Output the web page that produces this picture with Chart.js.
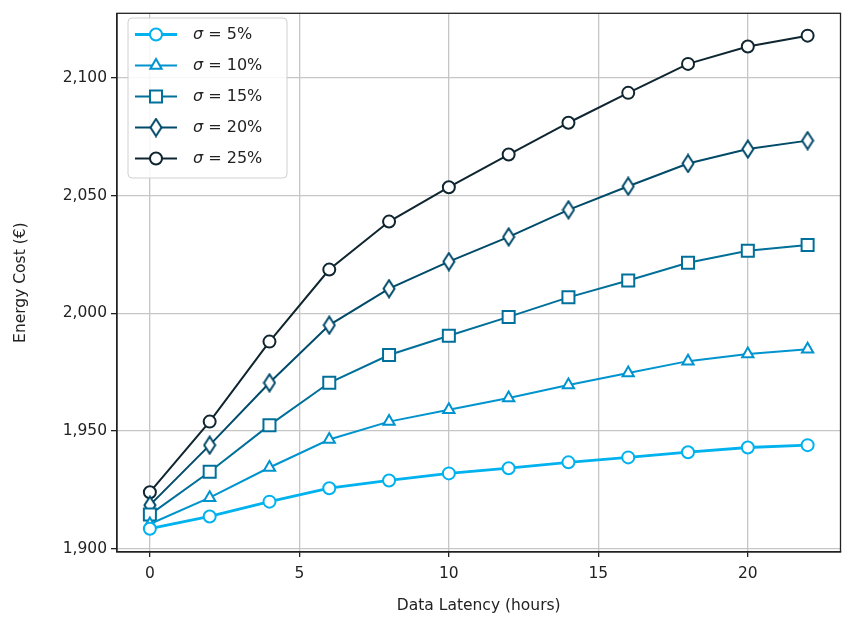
<!DOCTYPE html>
<html>
<head>
<meta charset="utf-8">
<script src="https://cdn.jsdelivr.net/npm/chart.js@4/dist/chart.umd.min.js"></script>
<style>
  html, body { margin: 0; padding: 0; background: #fff; }
  #wrap { width: 851px; height: 618px; }
</style>
</head>
<body>
<div id="wrap"><canvas id="chart"></canvas></div>
<script>
// data
const latency = [0, 2, 4, 6, 8, 10, 12, 14, 16, 18, 20, 22];
const sigma5  = [1908.5, 1913.7, 1920, 1925.7, 1929, 1932, 1934.2, 1936.7, 1938.8, 1941, 1943, 1944];
const sigma10 = [1910.5, 1921.7, 1934.5, 1946.4, 1954, 1959, 1964, 1969.6, 1974.7, 1979.7, 1982.7, 1984.8];
const sigma15 = [1914.5, 1932.7, 1952.5, 1970.5, 1982.3, 1990.5, 1998.5, 2006.8, 2014, 2021.5, 2026.6, 2029];
const sigma20 = [1918.5, 1944, 1970.5, 1995, 2010.5, 2022, 2032.5, 2044, 2054, 2063.7, 2069.8, 2073.4];
const sigma25 = [1924, 1954, 1988, 2018.6, 2039, 2053.6, 2067.5, 2081, 2093.7, 2106, 2113.4, 2118];
const sigmaLabels = ['5%', '10%', '15%', '20%', '25%'];
const xTicks = [0, 5, 10, 15, 20];
const yTicks = [1900, 1950, 2000, 2050, 2100];

const colors = ['#00b2ee', '#0094cf', '#00709a', '#004a6a', '#0f2630'];
const FONT = 'DejaVu Sans';

function thinDiamond(color) {
  const c = document.createElement('canvas');
  c.width = 14; c.height = 20;
  const g = c.getContext('2d');
  g.beginPath();
  g.moveTo(7, 1.5); g.lineTo(12.5, 10); g.lineTo(7, 18.5); g.lineTo(1.5, 10); g.closePath();
  g.fillStyle = '#fff'; g.fill();
  g.lineWidth = 2; g.strokeStyle = color; g.stroke();
  return c;
}

const markers = [
  { style: 'circle', radius: 6 },
  { style: 'triangle', radius: 6.5 },
  { style: 'rect', radius: 8.5 },
  { style: thinDiamond(colors[3]), radius: 7 },
  { style: 'circle', radius: 6 }
];

const series = [sigma5, sigma10, sigma15, sigma20, sigma25];
const datasets = series.map((vals, i) => ({
  label: 'σ = ' + sigmaLabels[i],
  data: latency.map((x, j) => ({ x: x, y: vals[j] })),
  borderColor: colors[i],
  borderWidth: i === 0 ? 2.8 : 2,
  pointStyle: markers[i].style,
  pointRadius: markers[i].radius,
  pointBorderWidth: 2,
  pointBorderColor: colors[i],
  pointBackgroundColor: '#fff',
  tension: 0,
  fill: false
}));

// matplotlib-like frame + legend inside the axes
const framePlugin = {
  id: 'frame',
  afterDraw(chart) {
    const ctx = chart.ctx;
    const a = chart.chartArea;
    ctx.save();
    ctx.strokeStyle = '#222';
    ctx.lineWidth = 1.3;
    ctx.strokeRect(a.left, a.top, a.right - a.left, a.bottom - a.top);

    // legend
    const bx = 128, by = 18, bw = 159, bh = 160;
    ctx.beginPath();
    ctx.roundRect(bx, by, bw, bh, 4);
    ctx.fillStyle = 'rgba(255,255,255,0.85)';
    ctx.fill();
    ctx.strokeStyle = '#d0d0d0';
    ctx.lineWidth = 1;
    ctx.stroke();

    chart.data.datasets.forEach((ds, i) => {
      const y = 34.5 + i * 31;
      ctx.beginPath();
      ctx.moveTo(135, y); ctx.lineTo(177, y);
      ctx.strokeStyle = ds.borderColor;
      ctx.lineWidth = ds.borderWidth;
      ctx.stroke();
      ctx.strokeStyle = ds.borderColor;
      ctx.fillStyle = '#fff';
      ctx.lineWidth = 2;
      Chart.helpers.drawPoint(ctx, {
        pointStyle: ds.pointStyle, radius: ds.pointRadius, borderWidth: 2, rotation: 0
      }, 156, y);
      ctx.fillStyle = '#222';
      ctx.textBaseline = 'middle';
      ctx.textAlign = 'left';
      ctx.font = 'italic 16px ' + FONT;
      ctx.fillText('σ', 193, y);
      const w = ctx.measureText('σ').width;
      ctx.font = '16px ' + FONT;
      ctx.fillText(' = ' + sigmaLabels[i], 193 + w, y);
    });
    ctx.restore();
  }
};

new Chart(document.getElementById('chart'), {
  type: 'line',
  data: { datasets: datasets },
  options: {
    responsive: true,
    maintainAspectRatio: false,
    animation: false,
    layout: { padding: { top: 9, right: 2, left: 0, bottom: 0 } },
    plugins: { legend: { display: false }, tooltip: { enabled: false } },
    scales: {
      x: {
        type: 'linear',
        min: -1.1,
        max: 23.1,
        afterBuildTicks: (s) => { s.ticks = xTicks.map(v => ({ value: v })); },
        afterFit: (s) => { s.height = 66; },
        grid: { color: '#c6c6c6', lineWidth: 1.3, tickLength: 5, tickColor: '#222' },
        border: { color: '#222', width: 1.3 },
        ticks: { color: '#222', font: { family: FONT, size: 15.5 }, padding: 8, maxRotation: 0 },
        title: {
          display: true,
          text: 'Data Latency (hours)',
          color: '#222',
          font: { family: FONT, size: 15.5 },
          padding: { top: 0, bottom: 3 }
        }
      },
      y: {
        type: 'linear',
        min: 1898.6,
        max: 2127.5,
        afterBuildTicks: (s) => { s.ticks = yTicks.map(v => ({ value: v })); },
        afterFit: (s) => { s.width = 117; },
        grid: { color: '#c6c6c6', lineWidth: 1.3, tickLength: 6, tickColor: '#222' },
        border: { color: '#222', width: 1.3 },
        ticks: {
          color: '#222',
          font: { family: FONT, size: 15.5 },
          padding: 4,
          callback: (v) => v.toLocaleString('en-US')
        },
        title: {
          display: true,
          text: 'Energy Cost (€)',
          color: '#222',
          font: { family: FONT, size: 15.5 },
          padding: { top: 12, bottom: 0 }
        }
      }
    }
  },
  plugins: [framePlugin]
});
</script>
</body>
</html>
